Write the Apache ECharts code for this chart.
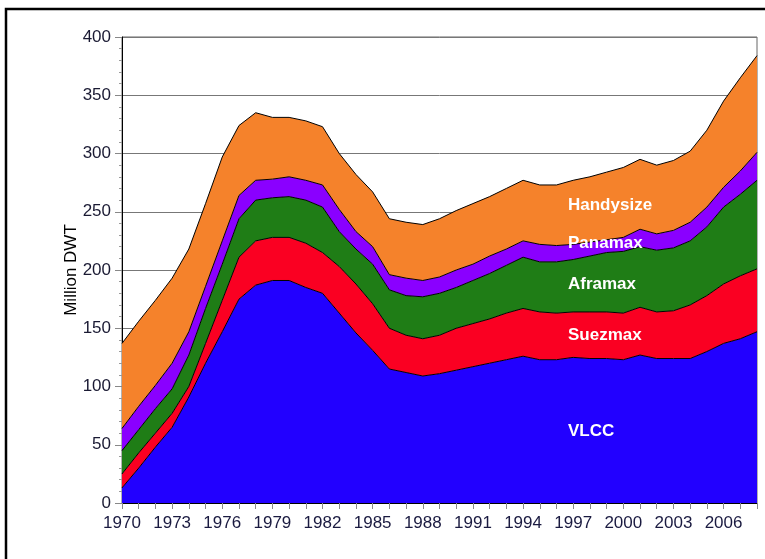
<!DOCTYPE html>
<html>
<head>
<meta charset="utf-8">
<script src="https://cdn.jsdelivr.net/npm/echarts@6/dist/echarts.min.js"></script>
<style>
	html, body { margin: 0; padding: 0; background: #fff; }
	#main { width: 765px; height: 559px; }
</style>
</head>
<body>
<div id="main"></div>
<script>
	var years = [];
	for (var y = 1970; y <= 2008; y++) {
		years.push(String(y));
	}
	// million DWT per class
	var vlcc      = [13, 30, 48, 65, 91, 120, 147, 175, 187, 191, 191, 185, 180, 163, 146, 131, 115, 112, 109, 111, 114, 117, 120, 123, 126, 123, 123, 125, 124, 124, 123, 127, 124, 124, 124, 130, 137, 141, 147];
	var suezmax   = [12, 13, 12, 12, 9, 17, 27, 36, 38, 37, 37, 38, 35, 40, 42, 40, 35, 32, 32, 33, 36, 37, 38, 40, 41, 41, 40, 39, 40, 40, 40, 41, 40, 41, 46, 48, 51, 54, 54];
	var aframax   = [20, 20, 21, 21, 27, 30, 31, 33, 35, 34, 35, 37, 39, 30, 30, 34, 33, 34, 36, 36, 35, 37, 39, 41, 44, 43, 44, 45, 48, 51, 53, 52, 53, 54, 55, 59, 66, 70, 76];
	var panamax   = [19, 20, 20, 22, 20, 19, 20, 20, 17, 16, 17, 17, 19, 19, 15, 15, 13, 15, 14, 14, 15, 14, 15, 14, 14, 15, 14, 13, 12, 11, 12, 15, 14, 15, 16, 17, 17, 20, 24];
	var handysize = [73, 73, 73, 73, 71, 71, 72, 60, 58, 53, 51, 51, 50, 48, 49, 47, 48, 48, 48, 50, 51, 52, 51, 52, 52, 51, 52, 55, 56, 58, 60, 60, 59, 60, 61, 66, 74, 80, 83];

	var names  = ['VLCC', 'Suezmax', 'Aframax', 'Panamax', 'Handysize'];
	var values = [vlcc, suezmax, aframax, panamax, handysize];
	var colors = ['#2200ff', '#fa0022', '#1f7d16', '#8a00ff', '#f5822b'];
	// label positions (px) inside the bands
	var labelY = [431, 335, 284, 243, 205];

	var chart = echarts.init(document.getElementById('main'));

	var series = [];
	for (var i = 0; i < names.length; i++) {
		series.push({
			name: names[i],
			type: 'line',
			stack: 'total',
			data: values[i],
			symbol: 'none',
			lineStyle: { color: '#000', width: 1 },
			areaStyle: { color: colors[i], opacity: 1 },
			animation: false
		});
	}

	var graphics = [{
		type: 'rect',
		shape: { x: 6, y: 9, width: 820, height: 620 },
		style: { fill: null, stroke: '#000', lineWidth: 2.5 },
		z: 100
	}];
	for (var j = 0; j < names.length; j++) {
		graphics.push({
			type: 'text',
			x: 568,
			y: labelY[j],
			style: {
				text: names[j],
				fill: '#fff',
				font: 'bold 17px "Liberation Sans", Arial, sans-serif',
				textVerticalAlign: 'middle'
			},
			z: 100
		});
	}

	var option = {
		backgroundColor: '#fff',
		textStyle: { fontFamily: '"Liberation Sans", Arial, sans-serif' },
		grid: {
			left: 122, right: 8, top: 37, bottom: 56,
			show: true, borderColor: '#666', borderWidth: 1
		},
		xAxis: {
			type: 'category',
			data: years,
			boundaryGap: false,
			axisLine: { lineStyle: { color: '#000', width: 1 } },
			axisTick: { interval: 0, length: 6, lineStyle: { color: '#888' } },
			axisLabel: { interval: 2, color: '#1a1a40', fontSize: 17, margin: 12 },
			splitLine: { show: false }
		},
		yAxis: {
			type: 'value',
			min: 0,
			max: 400,
			interval: 50,
			name: 'Million DWT',
			nameLocation: 'middle',
			nameGap: 42,
			nameMoveOverlap: false,
			nameTextStyle: { color: '#000', fontSize: 17 },
			axisLine: { show: true, lineStyle: { color: '#000', width: 1 } },
			axisTick: { show: true, length: 7, lineStyle: { color: '#888' } },
			minorTick: { show: true, splitNumber: 5, length: 3, lineStyle: { color: '#999' } },
			axisLabel: { color: '#1a1a33', fontSize: 17, margin: 11 },
			splitLine: { show: true, lineStyle: { color: '#777', width: 1 } }
		},
		series: series,
		graphic: graphics
	};
	chart.setOption(option);
</script>
</body>
</html>
